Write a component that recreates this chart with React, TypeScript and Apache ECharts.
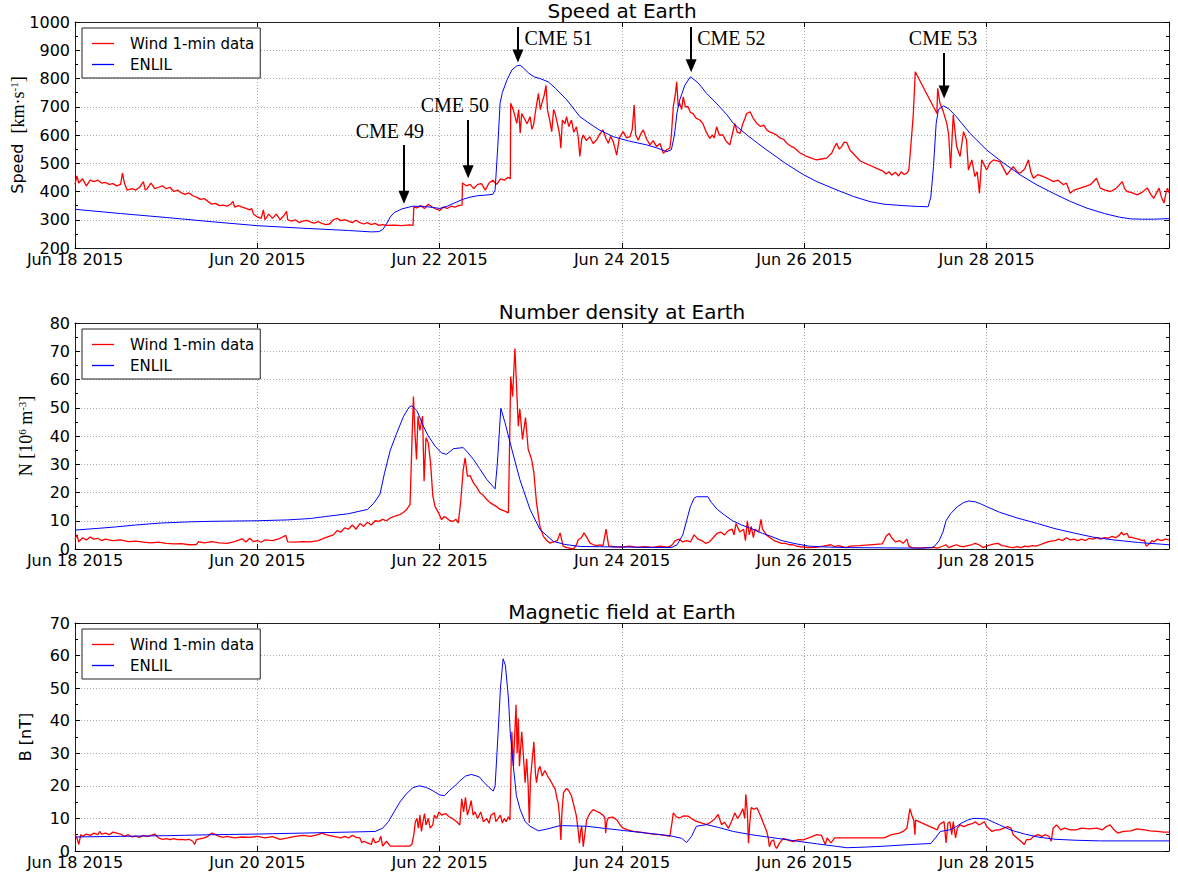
import React, { useEffect, useRef } from "react";
import * as echarts from "echarts";

// x values: hours since 2015-06-18 00:00 UT
const xTickLabels = ["Jun 18 2015", "Jun 20 2015", "Jun 22 2015", "Jun 24 2015", "Jun 26 2015", "Jun 28 2015", ""];
const X_MAX_HOURS = 288;
const X_TICK_HOURS = 48;

const panelTitles = ["Speed at Earth", "Number density at Earth", "Magnetic field at Earth"];
const legendNames = ["Wind 1-min data", "ENLIL"];

const speedWind: [number, number][] = [
  [0,425],[0.5,455],[1,430],[2,445],[3,420],[4,440],[5,435],[6,440],[7,430],[8,432],[9,425],[10,428],[11,420],[12,425],[12.5,465],[13,430],[13.7,405],[15,410],[16,405],[17,415],[18,435],[18.5,405],[19,410],[20,430],[21,410],[22,415],[23,420],[24,410],[25,415],[26,400],[27,405],[28,395],[29,390],[30,395],[31,385],[32,380],[33,372],[34,375],[35,365],[36,355],[37,358],[38,350],[39,352],[40,348],[41,355],[41.6,365],[42,345],[43,350],[44,345],[45,340],[46,335],[46.5,340],[47,320],[48,310],[49,305],[49.6,335],[50,300],[51,320],[52,305],[53,320],[54,300],[55,315],[55.7,330],[56,300],[57,295],[58,300],[59,290],[60,295],[61,298],[62,292],[63,288],[64,293],[65,287],[66,283],[67,285],[68,300],[69,305],[70,297],[71,300],[72,295],[73,290],[74,298],[75,290],[76,285],[77,290],[78,283],[79,287],[80,280],[81,283],[82,280],[84,281],[86,279],[88,282],[89,280],[89.2,345],[90,342],[91,350],[92,340],[93,355],[94,345],[95,338],[96,333],[97,345],[98,340],[99,348],[100,345],[101,350],[101.9,352],[102,430],[103,420],[104,425],[105,410],[106,425],[107,428],[108,405],[109,430],[110,440],[111,425],[112,445],[113,440],[114,450],[114.6,445],
  [114.7,712],[115.4,688],[116.3,641],[116.8,690],[117.2,606],[117.6,676],[118.5,653],[119,640],[119.8,665],[120.3,620],[120.7,635],[121.3,690],[122,747],[122.5,690],[122.9,712],[123.5,740],[124,776],[124.4,688],[125,650],[125.5,612],[126,690],[126.4,676],[127,640],[127.6,600],[127.9,553],[128.3,653],[129,640],[129.4,665],[130,630],[130.7,653],[131.3,610],[132,629],[132.5,590],[132.9,524],[133.4,585],[133.8,600],[134.6,580],[135.5,594],[136.4,570],[137.3,582],[138,600],[139,618],[139.7,590],[140.4,571],[141,595],[141.7,576],[142.2,550],[142.6,529],[143.3,590],[144.3,612],[145.2,590],[146.1,594],[146.7,620],[147.2,706],[147.6,600],[148.3,582],[149,605],[149.6,618],[150.5,585],[151.4,565],[152.2,580],[153.1,559],[154,570],[154.9,535],[155.8,548],[156.6,553],[157,600],[157.5,700],[158,740],[158.4,788],[158.8,700],[159.2,712],[159.7,690],[160.1,735],[160.7,700],[161.4,700],[162,680],[162.7,676],[163.5,660],[164.5,653],[165.3,640],[166.2,610],[167.1,588],[167.8,600],[168.3,590],[168.9,629],[169.6,600],[170.6,600],[171.3,580],[172,570],[172.4,565],[173,600],[173.7,641],[174.3,610],[175.1,606],[175.8,640],[176.4,660],[176.8,676],[177.7,682],[178.5,660],[179.5,641],[180.5,630],[181.3,635],[182.1,618],[183,610],[184,605],[184.7,600],[185.5,590],[186.5,585],[187.4,571],[188.5,560],[189.3,555],[190,547],[191,535],[191.8,530],[192.6,524],[193.5,520],[194.5,515],[195.3,512],[196.5,515],[197.9,518],[198.6,528],[199.2,535],[200,560],[200.5,571],[201.2,550],[201.8,559],[202.5,575],[203.2,573],[204,547],[206.7,508],[212.8,471],[213.5,462],[214.3,470],[215,458],[216,468],[216.8,455],[217.5,470],[218.3,460],[219,465],[219.5,475],[219.8,523],[220.3,606],[220.7,676],[221.2,824],[226.9,676],[227.1,765],[227.7,712],[228.6,682],[229.5,641],[230,600],[230.5,482],[231.2,671],[232.1,559],[233,524],[233.9,612],[234.7,582],[235.2,476],[236.1,512],[236.9,453],[237.5,470],[238.1,394],[238.7,512],[240,476],[240.8,500],[241.8,512],[243.5,506],[244.5,480],[245.3,459],[246.2,475],[247,488],[248,470],[248.8,465],[250,480],[251,512],[251.6,470],[252.3,447],[253.5,460],[254.9,453],[256.2,445],[257.6,435],[258.8,440],[260.2,424],[261,430],[262,394],[263,405],[264.6,412],[266,418],[267.3,424],[268.9,447],[269.9,412],[271.2,405],[272.6,400],[274,410],[275.7,435],[276.3,410],[277,400],[278.4,395],[279.6,388],[281,398],[282.3,412],[283.2,390],[284,376],[284.7,395],[285.4,412],[286,380],[286.7,359],[287.2,395],[287.6,412],[288,395]
];

const speedEnlil: [number, number][] = [
  [0,337],[12,322],[24,308],[36,293],[48,279],[60,270],[72,262],[78,257],[80,258],[81,265],[82,285],[83,310],[84,325],[86,338],[88,345],[89,348],[92,347],[94,344],[96,340],[98,348],[100,360],[102,372],[104,380],[106,385],[108,387],[110,390],[110.6,406],[111.3,560],[111.9,712],[112.5,750],[113.7,794],[115,830],[116.3,845],[117.2,847],[118,838],[119.5,818],[121,805],[122.4,800],[124.6,788],[126.5,765],[129.5,724],[132.9,665],[135,645],[138,618],[141.7,594],[146,578],[150.5,565],[153,555],[155.8,541],[157,548],[157.8,600],[158.5,680],[159.2,724],[160.5,775],[162,806],[164,785],[166.3,747],[169,710],[171.6,672],[173.3,641],[176.9,600],[180,568],[182.1,547],[187,500],[191.7,460],[195.3,435],[200.6,405],[205,382],[209.3,364],[213,355],[218,350],[222,347],[224.6,346],[225.3,380],[226,488],[226.7,640],[227.3,690],[228.6,703],[230,693],[232,665],[235.6,606],[240,547],[244,505],[248.8,459],[253,425],[257.5,394],[262,365],[266.4,341],[271,322],[275,309],[278,303],[281,302],[284,302],[288,304]
];

const densityWind: [number, number][] = [
  [0,3.5],[0.5,5],[1,2.5],[2,4],[3,3.2],[4,4.2],[5,3.5],[6,3.8],[7,3],[8,3.5],[10,3],[12,3.2],[14,2.6],[16,2.8],[18,2.4],[20,2.2],[22,2.4],[24,2],[26,1.8],[28,1.9],[30,1.5],[32,1.6],[32.5,2.6],[34,2.2],[36,2.6],[38,2.2],[40,2],[42,2.6],[44,3.6],[45,2.5],[46,3.8],[47,2.6],[48,3],[49,2.4],[50,3.2],[52,3],[54,3.8],[55.5,4.8],[56,2.5],[58,2.4],[60,2.6],[62,2.5],[64,3],[66,4],[68,5],[69,6.5],[70,6],[71,7.5],[72,7],[73,8.5],[74,7],[75,9],[76,8],[77,9.5],[78,8.5],[79,10],[80,9.8],[81,10.5],[82,10],[83,11],[84,11.5],[85,12],[85.6,12.2],[86.5,13],[87.3,14],[88.2,15.7],[88.8,42],[89.1,54],[89.5,41],[89.9,31.7],[90.3,47],[90.8,42],[91.2,45],[91.5,47],[91.9,24],[92.4,39.4],[93,37.6],[93.6,30.5],[94.2,18.7],[94.8,15],[95.7,12.8],[96.5,10.4],[97.2,11.5],[97.8,11],[98.7,10],[99.6,9.8],[100.3,10.5],[100.9,9.2],[101.5,16.3],[102.2,28],[102.7,32.3],[103.3,25.8],[104,26],[104.9,23.4],[105.7,22],[106.6,19.9],[107.5,19],[108.4,17.5],[109.2,16.5],[110.1,15.7],[111,15],[111.9,14],[113,13.5],[114.1,12.8],[114.7,61],[115.2,54],[115.8,71],[116.2,59],[116.7,43.5],[117.1,49.5],[117.8,38.8],[118.6,46.5],[119.3,35.3],[120.2,31.7],[120.8,27],[121.5,16.3],[122.4,8],[123.3,4.5],[124.2,3],[125,2.1],[126,2.5],[127,3],[127.7,5.7],[128.5,1],[129.5,0.5],[131.2,0],[132,1.5],[132.5,3.3],[133.3,4],[134,5.7],[134.8,4],[135.6,2.1],[136.5,1.5],[137.3,1.2],[138.2,1.5],[139,1.2],[139.8,7],[140.5,1],[142,0.8],[144,0.7],[146,1],[148,0.6],[150,0.8],[152,0.6],[154,1],[156,0.7],[157,1.2],[157.5,2],[158,3],[159,3.5],[160,2.5],[161,3],[162,2.5],[163,5],[164,3.5],[165,3],[166,2],[167,2.5],[168,4],[169,5.5],[170,6],[171,5],[172,6.5],[173,7],[173.5,5],[174,9],[175,6],[176,7],[176.5,3],[177,10],[177.5,5],[178,8],[178.6,4],[179,7],[180,6],[180.6,10.5],[181,7],[182,5],[183,4],[184,3],[185,2.5],[186,2],[187,2],[188,1.5],[189,1.5],[190,1],[191,0.8],[193,0.5],[195,0.6],[197,1],[199,1.5],[200,0.8],[201,1.2],[203,0.5],[204,1],[206.5,1.2],[212.5,1.8],[213,3],[213.5,4.5],[214.3,5.5],[215,4],[216,2.5],[217,3],[218,2],[219,3.5],[219.5,1],[220.3,0.5],[222,0.3],[224,0.5],[226.3,0.5],[227,0.3],[228,0.8],[229.3,1.5],[230,0.5],[231,1],[232,1.5],[233,1],[234,0.8],[235,1.2],[236,1.5],[237,2],[238,1.5],[239,0.5],[240,1],[241,1.5],[242,1.8],[243,2],[244,1.2],[245,1],[246,0.7],[247,0.5],[248,0.8],[249,0.5],[250,1],[251,0.8],[252,1.2],[253,1],[254,1.5],[255,2],[256,2.5],[257,2.8],[258,3],[259,3.5],[260,3],[260.5,3.5],[261,4],[262,3.2],[263,3.5],[264,3],[265,3.5],[266,3],[267,3.8],[268,3.5],[269,4],[270,3.5],[271,4],[272,3.8],[273,4.5],[274,4],[275,5],[275.5,6],[276,5],[277,5.5],[277.5,4],[278,4.2],[279,3.8],[280,3.5],[281,3],[281.5,3.2],[282,1],[283,2],[283.5,3],[284,2.5],[285,3.5],[286,3],[287,3.5],[288,3.2]
];

const densityEnlil: [number, number][] = [
  [0,6.7],[6,7.3],[10.6,7.8],[16,8.5],[22.7,9.2],[30,9.6],[35.8,9.8],[48,10],[56,10.3],[62,10.8],[66,11.5],[72,12.5],[77,14],[78.5,16],[79.6,18],[80.3,19.5],[81.5,27],[83,35],[84.7,41],[86.5,47],[88,50.3],[88.7,50.7],[90,49],[91.7,43.5],[93,40],[94.8,36.4],[96.5,34],[97.8,33.5],[99.6,35.5],[102.2,35.9],[103.5,34],[104.9,31.7],[106.5,28.5],[108.4,24.6],[110.6,21.3],[111.2,30.5],[112.1,49.8],[113.2,44.7],[115,35.3],[117.1,24.6],[119.8,14],[122.4,6.9],[125.9,2.7],[129,1.6],[133,0.9],[138,0.8],[144,0.7],[150,0.6],[157,0.5],[158.5,1.5],[160,5],[161,10],[162,15],[163,18],[163.6,18.5],[166.6,18.5],[167.5,16.5],[169.1,14],[171,12],[173.1,10],[175.5,8.5],[178.1,7.2],[181,5.5],[183.2,4.5],[186,3],[189.2,2],[193.2,1],[198,0.7],[203.2,0.5],[213,0.4],[223.3,0.3],[225.5,0.5],[226.3,1],[227.5,3],[228.5,6],[229.3,10],[230.5,12.5],[232.3,15],[234,16.5],[235.3,17],[237,16.7],[238.4,16],[240,15],[243.4,13],[248,11],[253.4,9],[258,7.2],[263.5,5.5],[268,4.2],[273.5,3.2],[280,2.3],[288,1.5]
];

const fieldWind: [number, number][] = [
  [0,5],[0.5,4],[1,2],[1.5,5],[2,4.5],[3,5.2],[4,4.8],[5,5.5],[6,5],[6.5,6],[7,5.2],[8,5.5],[9,5],[10,5.8],[11,5.5],[12,5.2],[13,4.5],[14,5],[15,4.3],[16,4.6],[17,4.2],[18,4.8],[19,4.4],[20,4.8],[21,5.2],[22,4],[23,3.6],[24,3.8],[25,3.5],[26,3.8],[27,3.5],[28,3.6],[29,3.4],[30,3.6],[31,3],[31.5,2],[32,3.5],[34,4],[35,4.5],[36,5.5],[37,5],[38,4.5],[39,4.2],[40,4.5],[42,4],[44,4.3],[46,4.2],[48,4.5],[50,4],[52,4.4],[54,3.6],[56,4],[58,4.5],[60,4.8],[62,4.5],[64,5],[65,5.5],[66,5],[68,4.5],[70,4],[71,4.5],[72,4],[73,4.8],[74,4.2],[75,4],[75.5,2.5],[76,3],[77,2.5],[78,2],[78.5,4],[79,2.5],[80,3],[80.5,4.5],[81,1.5],[82,3],[83,1.5],[84,1.5],[86,1.5],[88,1.5],[88.7,2],[89.2,5],[89.6,9],[90,10],[90.4,7],[90.8,11],[91.2,6],[91.6,9],[92,11.5],[92.4,8],[93,10],[93.5,7],[94.2,8],[94.6,11],[95.2,10],[95.8,12],[96.5,11],[97.5,11.5],[98.5,10.5],[99.3,10],[100.5,9],[101.3,8],[101.8,16],[102.3,12],[102.8,16.5],[103.3,11],[103.8,13],[104.3,15.5],[104.8,11],[105.3,12],[106,10],[106.8,12],[107.5,9],[108.4,10],[109,8.5],[109.5,11],[110.4,11.7],[110.8,9],[111.4,10],[112,11],[112.5,8.6],[113,10],[113.5,9],[114.1,10.5],[114.5,9.5],[115,36.6],[115.4,26],[116.1,44.9],[116.4,30],[116.7,40.7],[117,26],[117.6,36.6],[118,30],[118.5,21],[118.9,28.3],[119.3,20],[119.6,8.6],[119.9,22],[120.2,26],[120.8,33.5],[121.2,24],[121.5,21],[122,25],[122.4,26],[123,23],[123.7,24.7],[124.4,23],[125,22],[125.7,20.5],[126.4,19],[126.9,16],[127.2,14.8],[127.6,10],[127.9,3.4],[128.2,12],[128.6,17.9],[129.4,19.2],[130,18.5],[130.7,16.9],[131.6,12.7],[132,10.7],[132.5,6],[132.8,2.4],[133.1,6],[133.4,7.6],[133.8,1.3],[134.2,5],[134.7,9.6],[135.5,11.5],[136.4,12.7],[137.3,12.2],[138.2,11.7],[139,11],[139.5,10.2],[139.7,5.5],[140,9],[140.4,10.2],[141.5,10.4],[142.6,9.6],[143.5,8],[144.3,7],[145.5,6.5],[147,6],[148.8,5.8],[150.5,5.5],[152.3,5.2],[154,5],[155.3,4.8],[156.6,4.5],[157.2,9],[157.5,11.7],[158.3,10.5],[159.2,10.2],[160.3,10.8],[161.4,10.7],[162.5,9.8],[163.6,9.1],[164.9,8.6],[166.3,8.1],[167.5,9],[168.5,10],[169.3,11.2],[170.2,8.1],[171,8.8],[172,7],[172.8,9],[173.7,11.7],[174.4,10],[175.1,11.2],[175.8,13],[176.3,10],[176.6,17.4],[177,12],[177.3,2.4],[177.6,8],[178,13.3],[178.8,12.8],[179.5,13.3],[180.4,11],[181.2,8.6],[182.1,6],[182.5,4],[182.8,1.3],[183.3,3],[183.9,3.4],[184.3,1.5],[184.7,0.8],[185.5,2.5],[186.5,3.9],[187.8,3.3],[189.1,2.9],[190.4,3.5],[191.7,3.4],[193.5,4.2],[195.3,5],[196.5,4.8],[197.5,2],[198,4],[199,2.5],[200,4],[201,4],[203,4],[210,4],[213,4],[215,5],[217,5.5],[218,6],[219,7],[219.8,13],[220.3,11],[220.8,9.5],[221.1,5],[221.3,9.5],[227,6.5],[227.5,8],[228,8.5],[228.8,9],[229.3,2.5],[229.8,8.5],[230.3,9],[230.8,5],[231.2,9],[231.8,4],[232.3,7],[233,8],[234,7.5],[235,8],[236.4,8.5],[237,9],[238,8],[239.4,9],[240,7.5],[241.4,6],[242.5,6.5],[243.4,6.5],[244.5,7],[245.5,7.5],[246.4,7],[247,5],[248,4],[249,3],[249.9,2],[250.5,3.5],[251.5,3.5],[252.4,4.5],[253.5,5],[254.5,4.5],[255.5,5],[256.4,4.5],[257,3],[257.5,7],[258.4,8],[259.5,6.5],[260.5,7],[262,6.5],[263.5,6.5],[265,7],[267,6.8],[269,7],[270.5,6.5],[271.5,7.5],[272.5,8],[273.5,6.5],[274.5,5.5],[276,6],[278,6.2],[279.5,6.8],[281.6,6.5],[283,6.2],[285,6],[286.5,5.8],[288,5.8]
];

const fieldEnlil: [number, number][] = [
  [0,4.3],[12,4.5],[24,4.7],[36,5],[48,5.2],[60,5.5],[72,5.8],[79,6],[80,6.5],[81,7],[82.5,9],[84,12],[85.5,15],[87.2,17.5],[89,19.5],[90.7,20],[92.5,19.5],[94.2,18.5],[96,17.2],[97.3,17],[98.5,18.5],[100,20],[101.3,21.5],[102.8,23],[104.3,23.5],[105.8,23],[106.6,22.6],[107.3,21.5],[109,19.5],[110.1,18.4],[110.6,20],[111.4,36.6],[112,50],[112.7,59],[113.3,57],[114.1,47],[114.6,36],[115.4,26],[116.2,17],[117.2,12.7],[118.5,9],[119.8,7.6],[122,6.2],[124.5,6.8],[127.7,7.8],[131.5,7.7],[134.7,7.6],[139,7],[144.3,6.3],[150.5,5.5],[156.6,4.7],[159.7,3.9],[161,2.6],[162.3,4.5],[163.6,7.6],[166.3,8.1],[169.5,7.2],[173.3,6],[178,5],[182.9,4.2],[189,3.2],[195.3,2.2],[200,1.5],[203.2,1],[208,1.2],[213.3,1.5],[220,2],[225.3,2.3],[226.5,4],[227.8,6],[230.3,6.5],[232,7.5],[233.3,8.5],[235,9.5],[236.4,10],[238,10],[240,9.8],[243.4,8],[246.4,6.4],[250,5.2],[253.4,4.3],[258,3.6],[263.5,3.3],[270,3.1],[288,3.1]
];

// CME annotations in speed-panel data space: [hour, arrowTop, arrowTip]
const cmeArrows: [number, number, number][] = [
  [86.6, 565, 380],
  [103.5, 653, 470],
  [116.6, 982, 880],
  [162.2, 982, 845],
  [228.8, 890, 752],
];
// label text with centre [hour, speed]
const cmeLabels: [string, number, number][] = [
  ["CME 49", 82.9, 614],
  ["CME 50", 100, 706],
  ["CME 51", 127.3, 943],
  ["CME 52", 172.8, 943],
  ["CME 53", 228.5, 943],
];

const SANS = "DejaVu Sans";
const SERIF = "Liberation Serif";
const RED = "#ff0000";
const BLUE = "#0000ff";

export default function App() {
  const ref = useRef<HTMLDivElement>(null);
  useEffect(() => {
    if (!ref.current) return;
    const chart = echarts.init(ref.current, undefined, { renderer: "svg" });

    const grids = [
      { left: 75, right: 9, top: 22, height: 226, containLabel: false, outerBoundsMode: "none" },
      { left: 75, right: 9, top: 323, height: 226, containLabel: false, outerBoundsMode: "none" },
      { left: 75, right: 9, top: 623, height: 228, containLabel: false, outerBoundsMode: "none" },
    ];
    const yCfg = [
      { min: 200, max: 1000, interval: 100, name: "{a|Speed  }{b|[km·s}{s|-1}{b|]}", gap: 48 },
      { min: 0, max: 80, interval: 10, name: "{b|N [10}{s|6}{b| m}{s|-3}{b|]}", gap: 40 },
      { min: 0, max: 70, interval: 10, name: "{a|B [nT]}", gap: 42 },
    ];
    const spine = { show: true, onZero: false, lineStyle: { color: "#222", width: 1 } };
    const tick = { show: true, inside: true, length: 5, lineStyle: { color: "#000" } };
    const xAxes: any[] = [];
    const yAxes: any[] = [];
    grids.forEach((_, i) => {
      xAxes.push({
        type: "value", gridIndex: i, min: 0, max: X_MAX_HOURS, interval: X_TICK_HOURS, position: "bottom",
        axisLine: spine, axisTick: tick,
        axisLabel: {
          show: true, margin: 3, fontSize: 16, fontFamily: SANS, color: "#000",
          formatter: (v: number) => xTickLabels[Math.round(v / X_TICK_HOURS)] ?? "",
        },
        splitLine: { show: true, lineStyle: { color: "#aaa", type: [1, 2], width: 1 } },
      });
      xAxes.push({
        type: "value", gridIndex: i, min: 0, max: X_MAX_HOURS, interval: X_TICK_HOURS, position: "top",
        axisLine: spine, axisTick: tick, axisLabel: { show: false }, splitLine: { show: false },
      });
      const c = yCfg[i];
      yAxes.push({
        type: "value", gridIndex: i, min: c.min, max: c.max, interval: c.interval, position: "left",
        axisLine: spine, axisTick: tick,
        minorTick: { show: true, splitNumber: 2, length: 3, lineStyle: { color: "#000" } },
        axisLabel: { show: true, margin: 5, fontSize: 16, fontFamily: SANS, color: "#000", formatter: (v: number) => String(v) },
        splitLine: { show: true, lineStyle: { color: "#aaa", type: [1, 2], width: 1 } },
        name: c.name, nameLocation: "middle", nameRotate: 90, nameGap: c.gap, nameMoveOverlap: false,
        nameTextStyle: {
          color: "#000",
          rich: {
            a: { fontFamily: SANS, fontSize: 16, color: "#000" },
            b: { fontFamily: SERIF, fontSize: 18, color: "#000" },
            s: { fontFamily: SERIF, fontSize: 11, color: "#000", verticalAlign: "top", padding: [0, 0, 8, 0] },
          },
        },
      });
      yAxes.push({
        type: "value", gridIndex: i, min: c.min, max: c.max, interval: c.interval, position: "right",
        axisLine: spine, axisTick: tick,
        minorTick: { show: true, splitNumber: 2, length: 3, lineStyle: { color: "#000" } },
        axisLabel: { show: false }, splitLine: { show: false },
      });
    });

    const redStyle = { color: RED, width: 1.3 };
    const blueStyle = { color: BLUE, width: 1 };
    const mk = (name: string, data: [number, number][], i: number, ls: any, extra: any = {}) => ({
      name, type: "line", xAxisIndex: 2 * i, yAxisIndex: 2 * i, data, symbol: "none", showSymbol: false,
      lineStyle: ls, itemStyle: { color: ls.color }, clip: true, z: name === "ENLIL" ? 3 : 2, ...extra,
    });

    const series: any[] = [
      mk(legendNames[0], speedWind, 0, redStyle),
      mk(legendNames[1], speedEnlil, 0, blueStyle, {
        markLine: {
          silent: true, symbol: ["none", "triangle"], symbolSize: [11, 13], animation: false,
          lineStyle: { color: "#000", width: 2, type: "solid" }, itemStyle: { color: "#000" }, label: { show: false },
          data: cmeArrows.map(([h, top, tip]) => [{ coord: [h, top] }, { coord: [h, tip] }]),
        },
        markPoint: {
          silent: true, symbol: "circle", symbolSize: 0, animation: false,
          label: { show: true, position: "inside", formatter: "{b}", fontFamily: SERIF, fontSize: 20, color: "#000" },
          data: cmeLabels.map(([t, h, v]) => ({ name: t, coord: [h, v] })),
        },
      }),
      mk(legendNames[0], densityWind, 1, redStyle),
      mk(legendNames[1], densityEnlil, 1, blueStyle),
      mk(legendNames[0], fieldWind, 2, redStyle),
      mk(legendNames[1], fieldEnlil, 2, blueStyle),
    ];

    const legendColors = [RED, BLUE];
    const legendTops = [28, 329, 629];
    const legends = legendTops.map((t) => ({
      data: legendNames.map((n, k) => ({ name: n, icon: "rect", itemStyle: { color: legendColors[k], borderWidth: 0 } })),
      orient: "vertical", left: 82, top: t, selectedMode: false,
      backgroundColor: "#fff", borderColor: "#222", borderWidth: 1, borderRadius: 0,
      padding: [8, 6, 6, 10], itemGap: 6, itemWidth: 22, itemHeight: 1.3,
      textStyle: { fontFamily: SANS, fontSize: 15, color: "#000", padding: [0, 0, 0, 11] },
    }));

    const titleY = [11, 312, 612];
    const graphic = panelTitles.map((t, i) => ({
      type: "text", x: 622, y: titleY[i], z: 10,
      style: { text: t, font: `20px "${SANS}"`, fill: "#000", align: "center", verticalAlign: "middle", textAlign: "center", textVerticalAlign: "middle" },
    }));

    chart.setOption({
      animation: false,
      backgroundColor: "#fff",
      textStyle: { fontFamily: SANS },
      grid: grids,
      xAxis: xAxes,
      yAxis: yAxes,
      legend: legends,
      graphic,
      series,
    });
    return () => chart.dispose();
  }, []);
  return <div ref={ref} style={{ position: "fixed", left: 0, top: 0, width: 1178, height: 880, background: "#fff" }} />;
}
